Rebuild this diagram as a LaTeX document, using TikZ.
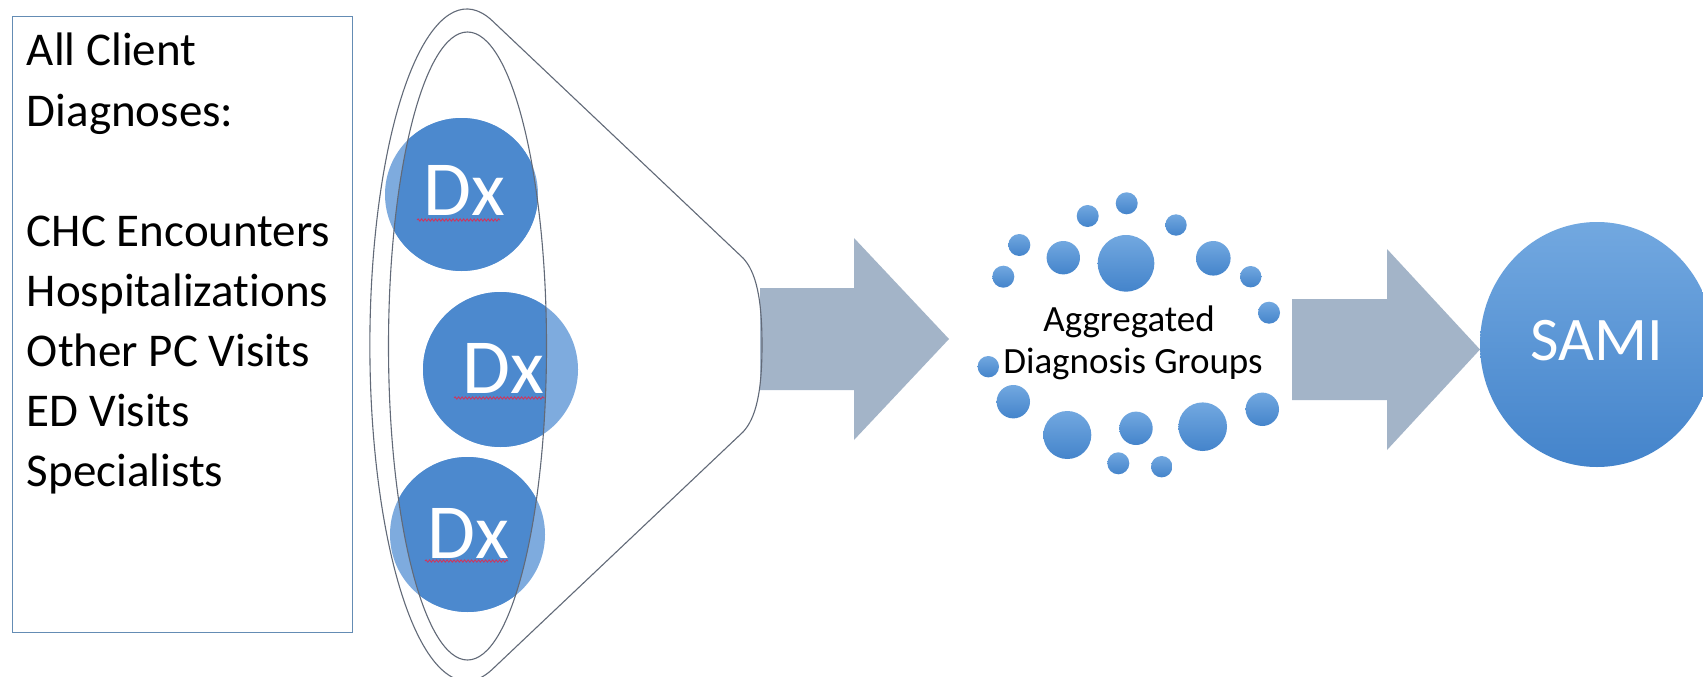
\documentclass[tikz,border=0pt]{standalone}
\usepackage{fontspec}
\setmainfont{Carlito}[Ligatures={NoCommon,NoContextual},Contextuals=NoAlternate]
\usetikzlibrary{decorations.pathmorphing,shapes.geometric}
\definecolor{dxdark}{RGB}{76,137,206}
\definecolor{dxlight}{RGB}{126,171,222}
\definecolor{arrowgray}{RGB}{163,180,200}
\definecolor{boxblue}{RGB}{100,140,180}
\definecolor{outlinegray}{RGB}{98,106,120}
\definecolor{bubtop}{RGB}{114,168,224}
\definecolor{bubbot}{RGB}{68,132,203}
\definecolor{squig}{RGB}{205,55,95}
\begin{document}
\begin{tikzpicture}[x=1pt,y=-1pt,
  listtext/.style={anchor=base west, inner sep=0pt, font=\fontsize{47}{60}\selectfont, text=black},
  dxtext/.style={anchor=base, inner sep=0pt, font=\fontsize{78}{90}\selectfont, text=white},
  grouptext/.style={anchor=base, inner sep=0pt, font=\fontsize{37}{42}\selectfont, text=black},
  conestyle/.style={draw=outlinegray, line width=1.1pt},
  blockarrow/.style={fill=arrowgray, draw=none},
  bubble/.style={top color=bubtop, bottom color=bubbot, draw=none},
  squiggle/.style={draw=squig, line width=0.9pt, decorate, decoration={snake, amplitude=1.1pt, segment length=3.5pt}}
]
\useasboundingbox (0,0) rectangle (1703,677);
\fill[white] (0,0) rectangle (1703,677);

% left box
\node[draw=boxblue, line width=1.3pt, anchor=north west, inner sep=0pt,
      minimum width=340pt, minimum height=616pt] (box) at (11.7,16) {};
\node[listtext] (l1) at (26.7,66) {All Client};
\node[listtext] (l2) at (26.7,126) {Diagnoses:};
\node[listtext] (l3) at (26.7,246) {CHC Encounters};
\node[listtext] (l4) at (26.7,306) {Hospitalizations};
\node[listtext] (l5) at (26.7,366) {Other PC Visits};
\node[listtext] (l6) at (26.7,426) {ED Visits};
\node[listtext] (l7) at (26.7,486) {Specialists};

% first block arrow (under the cone outline)
\path[blockarrow] (760,288) -- (854,288) -- (854,238) -- (949,339) -- (854,440) -- (854,390) -- (760,390) -- cycle;

% Dx circles: lighter outside the inner ellipse, darker inside
\fill[dxlight] (461.5,194.5) circle[radius=76.5pt];
\fill[dxlight] (500.5,369.5) circle[radius=77.5pt];
\fill[dxlight] (467.5,534.5) circle[radius=77.5pt];
\begin{scope}
  \clip (467.5,346) ellipse [x radius=79pt, y radius=314pt];
  \fill[dxdark] (461.5,194.5) circle[radius=76.5pt];
  \fill[dxdark] (500.5,369.5) circle[radius=77.5pt];
  \fill[dxdark] (467.5,534.5) circle[radius=77.5pt];
\end{scope}

% cone outline and inner ellipse
\draw[conestyle] (492,20.5) arc[start angle=75, end angle=285, x radius=97pt, y radius=336pt]
  -- (743,432) .. controls (756,418) and (762,392) .. (762,345)
  .. controls (762,298) and (756,272) .. (743,258) -- cycle;
\draw[conestyle] (467.5,346) ellipse [x radius=79pt, y radius=314pt];

% Dx labels with spell-check underline
\node[dxtext] (dx1) at (464,215) {Dx};
\node[dxtext] (dx2) at (503,393) {Dx};
\node[dxtext] (dx3) at (468,558) {Dx};
\draw[squiggle] (417,220) -- (500,220);
\draw[squiggle] (454,398) -- (545,398);
\draw[squiggle] (425,561) -- (508,561);

% bubble cluster
\foreach \bx/\by/\br in {
  1126.7/203.3/11, 1087.7/216/11, 1176/225/10.7, 1019.3/245/11,
  1063.3/257.7/16.7, 1126/263.3/28.3, 1213.3/258.3/17.3, 1003.3/276.7/11,
  1250.7/276.7/10.7, 1269/312.7/11, 988.3/366.7/10.7, 1013.3/401.7/16.7,
  1262.3/409.3/16.7, 1067.3/435/24, 1136/428.3/16.7, 1202.7/426.7/24.3,
  1118.3/463.3/11, 1161.7/466.7/10.7}
  \path[bubble] (\bx,\by) circle[radius=\br pt];
\node[grouptext] (g1) at (1129,331.7) {Aggregated};
\node[grouptext] (g2) at (1133,373.3) {Diagnosis Groups};

% second block arrow
\path[blockarrow] (1292,299) -- (1387,299) -- (1387,249) -- (1480,349.5) -- (1387,450) -- (1387,400) -- (1292,400) -- cycle;

% SAMI
\node[ellipse, minimum width=234pt, minimum height=245pt, inner sep=0pt,
      top color=bubtop, bottom color=bubbot, draw=none] (sami) at (1597,344.5) {};
\node[anchor=base, inner sep=0pt, font=\fontsize{62}{70}\selectfont, text=white] (samitext) at (1597,360) {SAMI};
\end{tikzpicture}
\end{document}
